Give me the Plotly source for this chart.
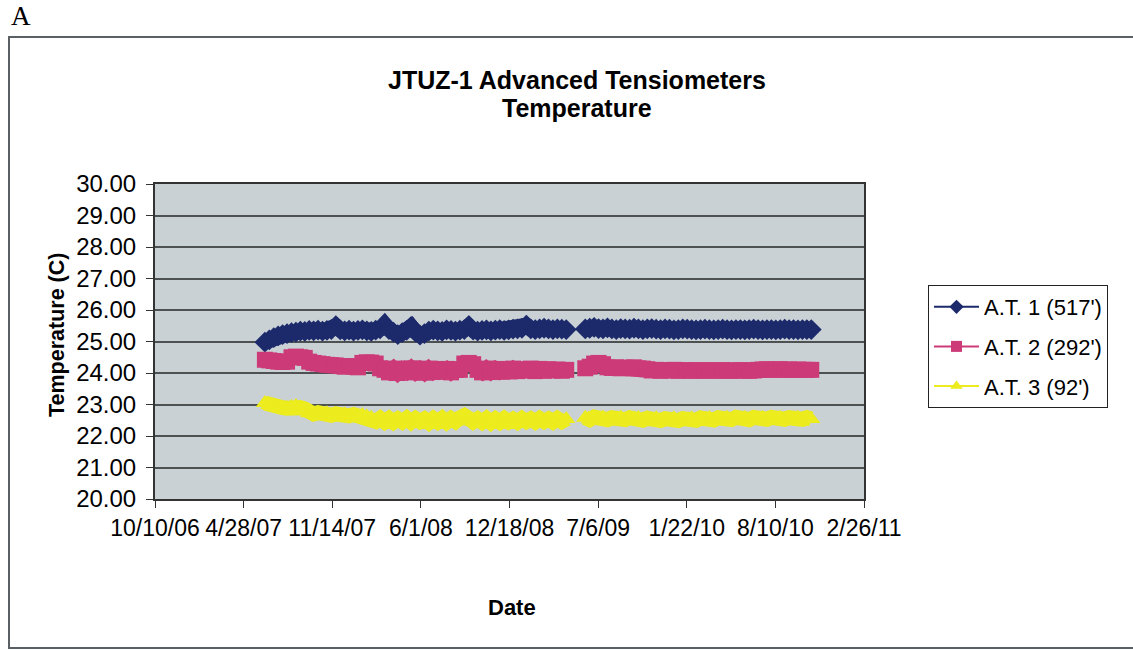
import pandas as pd
import plotly.graph_objects as go

# --- data -------------------------------------------------------------
# Logger readings, sampled every 10 days; the record has a gap in May 2009.
seg1_start = "2007-06-15"
seg2_start = "2009-06-07"
step = "10D"

at1_seg1 = [24.98, 25.05, 25.12, 25.18, 25.22, 25.25, 25.28, 25.30, 25.33, 25.32,
            25.35, 25.34, 25.36, 25.33, 25.35, 25.38, 25.50, 25.37, 25.34, 25.36,
            25.33, 25.35, 25.37, 25.34, 25.32, 25.36, 25.40, 25.55, 25.38, 25.30,
            25.22, 25.28, 25.35, 25.48, 25.30, 25.20, 25.25, 25.33, 25.36, 25.34,
            25.32, 25.37, 25.35, 25.33, 25.36, 25.38, 25.50, 25.36, 25.33, 25.35,
            25.37, 25.34, 25.36, 25.38, 25.35, 25.37, 25.39, 25.40, 25.42, 25.52,
            25.40, 25.38, 25.40, 25.42, 25.40, 25.38, 25.40, 25.39, 25.38]
at1_seg2 = [25.40, 25.42, 25.45, 25.41, 25.40, 25.43, 25.40, 25.38, 25.41, 25.40,
            25.39, 25.42, 25.40, 25.38, 25.40, 25.41, 25.39, 25.38, 25.40, 25.39,
            25.37, 25.38, 25.40, 25.39, 25.38, 25.37, 25.38, 25.39, 25.38, 25.37,
            25.38, 25.39, 25.38, 25.37, 25.38, 25.38, 25.37, 25.38, 25.39, 25.38,
            25.37, 25.38, 25.38, 25.37, 25.38, 25.39, 25.38, 25.38, 25.37, 25.38,
            25.38, 25.38]

at2_seg1 = [24.42, 24.40, 24.38, 24.36, 24.35, 24.36, 24.50, 24.52, 24.50, 24.48,
            24.36, 24.32, 24.30, 24.28, 24.26, 24.25, 24.24, 24.22, 24.20, 24.22,
            24.20, 24.18, 24.32, 24.34, 24.33, 24.30, 24.15, 24.10, 24.02, 24.14,
            24.00, 24.12, 24.03, 24.15, 24.02, 24.12, 24.01, 24.14, 24.03, 24.12,
            24.05, 24.13, 24.02, 24.12, 24.10, 24.30, 24.32, 24.28, 24.10, 24.02,
            24.14, 24.03, 24.13, 24.04, 24.12, 24.05, 24.14, 24.06, 24.12, 24.08,
            24.14, 24.06, 24.13, 24.07, 24.12, 24.08, 24.11, 24.07, 24.10]
at2_seg2 = [24.15, 24.20, 24.30, 24.32, 24.28, 24.18, 24.16, 24.18, 24.15, 24.17,
            24.16, 24.18, 24.15, 24.14, 24.12, 24.08, 24.10, 24.07, 24.09, 24.08,
            24.10, 24.07, 24.09, 24.08, 24.07, 24.09, 24.08, 24.07, 24.09, 24.08,
            24.07, 24.09, 24.08, 24.07, 24.08, 24.09, 24.08, 24.07, 24.08, 24.10,
            24.11, 24.12, 24.10, 24.11, 24.12, 24.10, 24.11, 24.10, 24.11, 24.10,
            24.10, 24.10]

at3_seg1 = [23.05, 22.98, 22.94, 22.92, 22.90, 22.88, 22.92, 22.95, 22.90, 22.86,
            22.72, 22.70, 22.74, 22.68, 22.72, 22.66, 22.70, 22.65, 22.69, 22.64,
            22.68, 22.63, 22.67, 22.62, 22.58, 22.46, 22.56, 22.45, 22.55, 22.44,
            22.54, 22.45, 22.56, 22.44, 22.55, 22.46, 22.54, 22.43, 22.55, 22.45,
            22.56, 22.44, 22.55, 22.46, 22.58, 22.65, 22.56, 22.45, 22.54, 22.44,
            22.55, 22.43, 22.54, 22.44, 22.55, 22.45, 22.53, 22.44, 22.55, 22.46,
            22.54, 22.45, 22.55, 22.46, 22.54, 22.45, 22.55, 22.46, 22.54]
at3_seg2 = [22.58, 22.52, 22.60, 22.53, 22.59, 22.52, 22.58, 22.53, 22.59, 22.52,
            22.58, 22.51, 22.57, 22.50, 22.56, 22.50, 22.56, 22.49, 22.55, 22.50,
            22.56, 22.49, 22.55, 22.50, 22.56, 22.50, 22.57, 22.51, 22.57, 22.51,
            22.58, 22.52, 22.58, 22.52, 22.59, 22.53, 22.58, 22.52, 22.59, 22.53,
            22.58, 22.53, 22.59, 22.53, 22.58, 22.53, 22.58, 22.53, 22.58, 22.53,
            22.58, 22.54]

series_names = ["A.T. 1 (517')", "A.T. 2 (292')", "A.T. 3 (92')"]
series_colors = ["#1c2a6c", "#cd3a78", "#ecec1e"]
series_symbols = ["diamond", "square", "triangle-up"]

x_tick_dates = ["2006-10-10", "2007-04-28", "2007-11-14", "2008-06-01", "2008-12-18",
                "2009-07-06", "2010-01-22", "2010-08-10", "2011-02-26"]
x_tick_labels = ["10/10/06", "4/28/07", "11/14/07", "6/1/08", "12/18/08",
                 "7/6/09", "1/22/10", "8/10/10", "2/26/11"]
y_ticks = [20, 21, 22, 23, 24, 25, 26, 27, 28, 29, 30]

# --- layout geometry --------------------------------------------------
W, H = 1133, 650
L, R, T, B = 155, 269, 184, 151
PW, PH = W - L - R, H - T - B


def px(x):
    return (x - L) / PW


def py(y):
    return (H - B - y) / PH


def build_series(seg1, seg2):
    d1 = list(pd.date_range(seg1_start, periods=len(seg1), freq=step))
    d2 = list(pd.date_range(seg2_start, periods=len(seg2), freq=step))
    xs = d1 + [None] + d2
    ys = seg1 + [None] + seg2
    return xs, ys


FONT = "Liberation Sans, Arial, sans-serif"

fig = go.Figure()
all_series = [(at1_seg1, at1_seg2), (at2_seg1, at2_seg2), (at3_seg1, at3_seg2)]
for i, (s1, s2) in enumerate(all_series):
    xs, ys = build_series(s1, s2)
    # dense logger record: heavy overlapping markers form a thick band
    fig.add_trace(go.Scatter(
        x=xs, y=ys, mode="lines+markers", name=series_names[i],
        showlegend=False, legendgroup=f"g{i}",
        line=dict(color=series_colors[i], width=15),
        marker=dict(symbol=series_symbols[i], size=16, color=series_colors[i],
                    line=dict(width=0)),
        connectgaps=False,
    ))
for i in range(len(all_series)):
    # legend key with regular-size line and marker
    fig.add_trace(go.Scatter(
        x=[None], y=[None], mode="lines+markers", name=series_names[i],
        legendgroup=f"g{i}",
        line=dict(color=series_colors[i], width=2),
        marker=dict(symbol=series_symbols[i], size=11, color=series_colors[i],
                    line=dict(width=0)),
    ))

fig.update_layout(
    width=W, height=H,
    margin=dict(l=L, r=R, t=T, b=B, pad=0),
    paper_bgcolor="white",
    plot_bgcolor="#c9d1d5",
    font=dict(family=FONT, color="black"),
    showlegend=True,
    legend=dict(
        x=px(928), y=py(285), xanchor="left", yanchor="top",
        bgcolor="white", bordercolor="#222", borderwidth=1,
        font=dict(size=22, family=FONT, color="black"),
        itemwidth=45, tracegroupgap=8, traceorder="grouped",
    ),
)

fig.update_xaxes(
    type="date",
    range=["2006-10-10", "2011-02-26"],
    tickmode="array", tickvals=x_tick_dates, ticktext=x_tick_labels,
    ticks="outside", ticklen=7, tickcolor="#333", tickwidth=1,
    tickfont=dict(size=23, family=FONT, color="black"),
    showgrid=False, zeroline=False,
    showline=True, linecolor="#333", linewidth=2, mirror=True,
)
fig.update_yaxes(
    range=[20, 30],
    tickmode="array", tickvals=y_ticks, tickformat=".2f",
    ticks="outside", ticklen=7, tickcolor="#333", tickwidth=1,
    tickfont=dict(size=24, family=FONT, color="black"),
    ticklabelstandoff=5,
    showgrid=True, gridcolor="#4d5152", gridwidth=2,
    zeroline=False,
    showline=True, linecolor="#333", linewidth=2, mirror=True,
)

annotations = [
    dict(text="A", x=px(9), y=py(16), xanchor="left", yanchor="middle",
         font=dict(size=27, family="Liberation Serif, Times New Roman, serif", color="black")),
    dict(text="<b>JTUZ-1 Advanced Tensiometers</b>", x=px(577), y=py(80),
         xanchor="center", yanchor="middle", font=dict(size=25, family=FONT)),
    dict(text="<b>Temperature</b>", x=px(577), y=py(108),
         xanchor="center", yanchor="middle", font=dict(size=25, family=FONT)),
    dict(text="<b>Temperature (C)</b>", x=px(57), y=py(335), textangle=-90,
         xanchor="center", yanchor="middle", font=dict(size=21.5, family=FONT)),
    dict(text="<b>Date</b>", x=px(512), y=py(607),
         xanchor="center", yanchor="middle", font=dict(size=22, family=FONT)),
]
for a in annotations:
    a.update(xref="paper", yref="paper", showarrow=False)
fig.update_layout(annotations=annotations)

# chart-area frame
fig.add_shape(type="rect", xref="paper", yref="paper",
              x0=px(9), x1=px(1145), y0=py(648), y1=py(37),
              line=dict(color="#5a5f63", width=2), fillcolor="rgba(0,0,0,0)", layer="below")

fig.write_html("out.html")
